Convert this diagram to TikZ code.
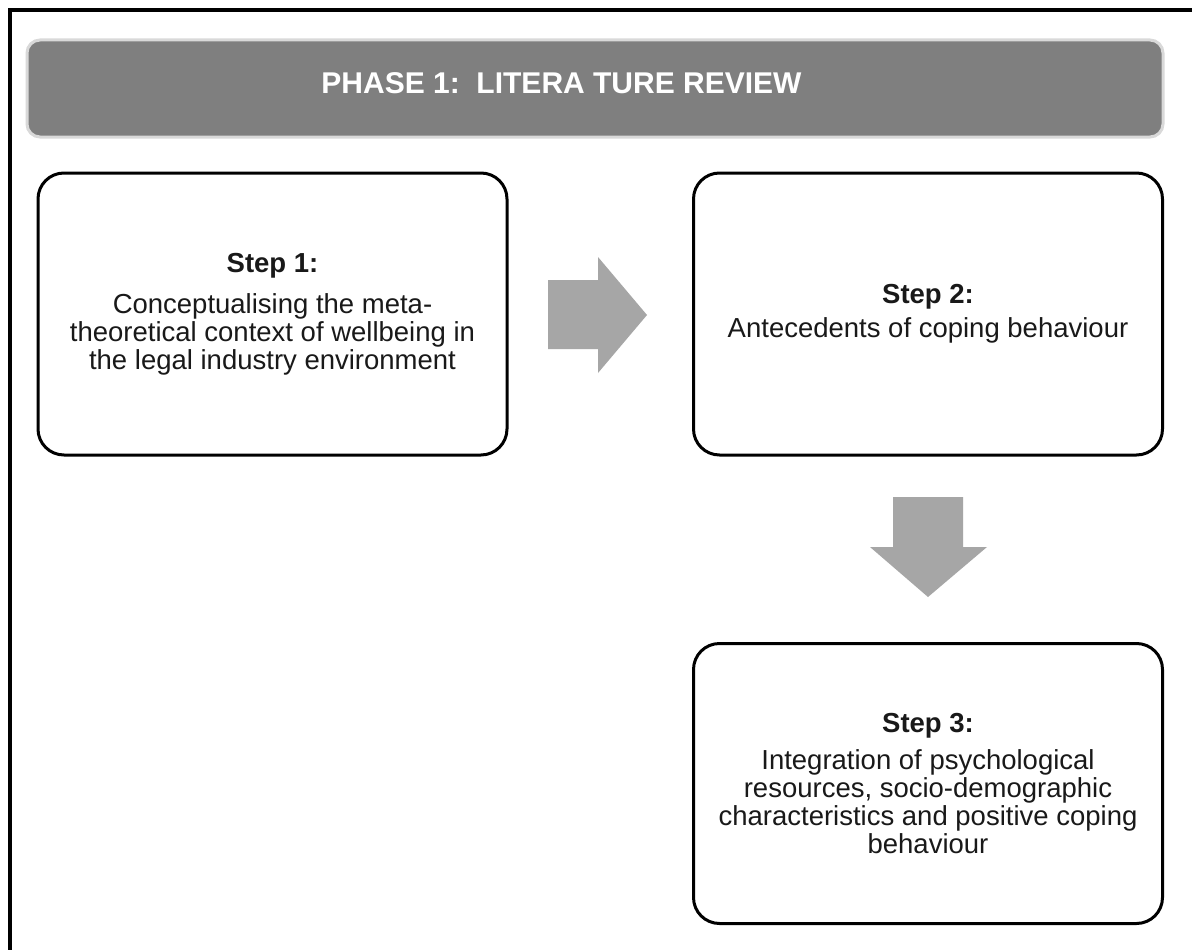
\documentclass[tikz,border=0pt]{standalone}
\usepackage{fontspec}
\setmainfont{Liberation Sans}
\definecolor{headfill}{HTML}{7F7F7F}
\definecolor{headglow}{HTML}{D9D9D9}
\definecolor{arrowgray}{HTML}{A6A6A6}
\tikzset{
  frame/.style={line width=4pt},
  header/.style={rectangle, rounded corners=13pt, fill=headfill, draw=headglow,
    line width=3pt, minimum width=1136pt, minimum height=97pt, inner sep=0pt},
  headtext/.style={text=white, font=\fontsize{30}{32}\selectfont\bfseries, inner sep=0pt},
  stepbox/.style={rectangle, rounded corners=26pt, draw=black, line width=3pt,
    fill=white, minimum width=469pt, minimum height=282pt, align=center,
    font=\fontsize{27.5}{28}\selectfont, text=black!90, inner sep=0pt},
  blockarrow/.style={fill=arrowgray, draw=none}
}
\begin{document}
\begin{tikzpicture}[x=1pt,y=-1pt]
\useasboundingbox (0,0) rectangle (1192,950);
\clip (0,0) rectangle (1192,950);
\fill[white] (0,0) rectangle (1192,950);

% outer frame (runs past the right and bottom edges)
\draw[frame] (9.5,1000) -- (9.5,10.3) -- (1250,10.3);

% phase banner
\node[header] (phase) at (595,88.5) {};
\node[headtext, anchor=base] (phasetitle) at (561.5,93) {PHASE 1:\ \ LITERA TURE REVIEW};

% step boxes
\node[stepbox] (s1) at (272.5,314) {{\bfseries Step 1:}\\[13pt]
  Conceptualising the meta-\\theoretical context of wellbeing in\\the legal industry environment};
\node[stepbox] (s2) at (928,314) {{\bfseries Step 2:}\\[6pt]
  Antecedents of coping behaviour};
\node[stepbox, minimum height=280pt] (s3) at (928,783.5) {{\bfseries Step 3:}\\[9pt]
  Integration of psychological\\resources, socio-demographic\\characteristics and positive coping\\behaviour};

% block arrows between the steps
\fill[blockarrow] (548,280) -- (598,280) -- (598,257) -- (647,315)
  -- (598,373) -- (598,349) -- (548,349) -- cycle;
\fill[blockarrow] (893,497) -- (963,497) -- (963,547) -- (987,547)
  -- (928,597) -- (870,547) -- (893,547) -- cycle;
\end{tikzpicture}
\end{document}
